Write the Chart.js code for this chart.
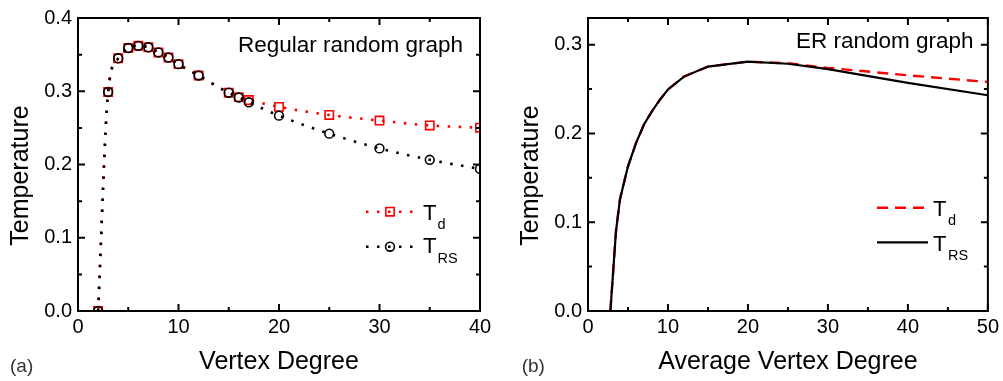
<!DOCTYPE html>
<html>
<head>
<meta charset="utf-8">
<script src="https://cdn.jsdelivr.net/npm/chart.js@4.4.1/dist/chart.umd.min.js"></script>
<style>
  html, body { margin: 0; padding: 0; background: #fff; }
  #wrap { position: relative; width: 1003px; height: 381px; }
  canvas { position: absolute; top: 0; }
</style>
</head>
<body>
<div id="wrap">
  <canvas id="chartA" width="500" height="381" style="left:0"></canvas>
  <canvas id="chartB" width="503" height="381" style="left:500px"></canvas>
</div>
<script>
// (a) regular random graph
const degree = [2, 3, 4, 5, 6, 7, 8, 9, 10, 12, 15, 16, 17, 20, 25, 30, 35, 40];
const tdRegular = [0, 0.299, 0.345, 0.359, 0.362, 0.360, 0.353, 0.346, 0.337, 0.3215, 0.298, 0.292, 0.288, 0.2787, 0.2676, 0.260, 0.2533, 0.2502];
const trsRegular = [0, 0.299, 0.345, 0.359, 0.362, 0.360, 0.353, 0.346, 0.337, 0.3215, 0.298, 0.2915, 0.285, 0.2667, 0.2421, 0.222, 0.2064, 0.194];

// (b) ER random graph
const avgDegree = [2.8, 3.5, 4, 5, 6, 7, 8, 9, 10, 12, 15, 20, 25, 30, 40, 50];
const tdER = [0, 0.09, 0.126, 0.163, 0.189, 0.21, 0.225, 0.238, 0.2495, 0.264, 0.2753, 0.2808, 0.279, 0.2738, 0.2655, 0.258];
const trsER = [0, 0.09, 0.126, 0.163, 0.189, 0.21, 0.225, 0.238, 0.2495, 0.264, 0.2753, 0.2808, 0.2785, 0.2725, 0.257, 0.243];

const xTicksA = [0, 10, 20, 30, 40];
const yTicksA = [0, 0.1, 0.2, 0.3, 0.4];
const xTicksB = [0, 10, 20, 30, 40, 50];
const yTicksB = [0, 0.1, 0.2, 0.3];

const FONT = '"Liberation Sans", Arial, Helvetica, sans-serif';
Chart.defaults.font.family = FONT;
Chart.defaults.color = '#000';

const pts = (xs, ys) => xs.map((x, i) => ({ x, y: ys[i] }));

// frame, inward ticks, y title, panel text and legend with subscripts
const decor = {
  id: 'decor',
  afterDatasetsDraw(chart, args, o) {
    const { ctx, chartArea: a, scales } = chart;
    ctx.save();
    ctx.strokeStyle = '#000';
    ctx.lineWidth = 2;
    ctx.strokeRect(a.left, a.top, a.right - a.left, a.bottom - a.top);

    const marks = s => {
      const major = s.ticks.map(t => t.value);
      const out = major.map(v => [v, 7]);
      for (let i = 0; i < major.length - 1; i++) out.push([(major[i] + major[i + 1]) / 2, 4]);
      return out;
    };
    ctx.beginPath();
    for (const [v, len] of marks(scales.x)) {
      const p = scales.x.getPixelForValue(v);
      ctx.moveTo(p, a.bottom); ctx.lineTo(p, a.bottom - len);
      ctx.moveTo(p, a.top); ctx.lineTo(p, a.top + len);
    }
    for (const [v, len] of marks(scales.y)) {
      const p = scales.y.getPixelForValue(v);
      ctx.moveTo(a.left, p); ctx.lineTo(a.left + len, p);
      ctx.moveTo(a.right, p); ctx.lineTo(a.right - len, p);
    }
    ctx.stroke();

    // y axis title
    ctx.fillStyle = '#000';
    ctx.font = '25px ' + FONT;
    ctx.textAlign = 'center';
    ctx.textBaseline = 'middle';
    ctx.save();
    ctx.translate(o.yTitleX, 175.5);
    ctx.rotate(-Math.PI / 2);
    ctx.fillText('Temperature', 0, 0);
    ctx.restore();

    // panel label and graph name
    ctx.textAlign = 'left';
    ctx.textBaseline = 'alphabetic';
    ctx.fillStyle = '#333';
    ctx.font = '19px ' + FONT;
    ctx.fillText(o.panel, o.panelX, 372);
    ctx.fillStyle = '#000';
    ctx.font = '22.5px ' + FONT;
    ctx.fillText(o.name, o.nameX, o.nameY);

    // legend
    o.legend.forEach(item => {
      const ds = chart.data.datasets[item.index];
      ctx.save();
      ctx.strokeStyle = ds.borderColor;
      ctx.lineWidth = ds.borderWidth;
      ctx.setLineDash(ds.borderDash || []);
      ctx.beginPath();
      ctx.moveTo(o.lx0, item.y);
      ctx.lineTo(o.lx1, item.y);
      ctx.stroke();
      ctx.setLineDash([]);
      if (ds.pointRadius > 0) {
        const cx = (o.lx0 + o.lx1) / 2;
        ctx.lineWidth = ds.pointBorderWidth;
        ctx.beginPath();
        if (ds.pointStyle === 'rect') {
          const h = ds.pointRadius * Math.SQRT1_2;
          ctx.rect(cx - h, item.y - h, 2 * h, 2 * h);
        } else {
          ctx.arc(cx, item.y, ds.pointRadius, 0, Math.PI * 2);
        }
        ctx.stroke();
      }
      ctx.restore();
      ctx.font = '22px ' + FONT;
      ctx.fillText('T', o.tx, item.base);
      ctx.font = '14.5px ' + FONT;
      ctx.fillText(item.sub, o.sx, item.base + item.drop);
    });
    ctx.restore();
  }
};

function axes(xMax, yMax, xTicks, yTicks, xTitle, yWidth) {
  return {
    x: {
      type: 'linear', min: 0, max: xMax,
      afterBuildTicks: s => { s.ticks = xTicks.map(v => ({ value: v })); },
      afterFit: s => { s.height = 70; },
      grid: { display: false, drawTicks: false },
      border: { display: false },
      ticks: { font: { size: 20 }, color: '#000', padding: 4, maxRotation: 0, autoSkip: false },
      title: { display: true, text: xTitle, font: { size: 25 }, color: '#000', padding: { top: 0, bottom: 4 } }
    },
    y: {
      type: 'linear', min: 0, max: yMax,
      afterBuildTicks: s => { s.ticks = yTicks.map(v => ({ value: v })); },
      afterFit: s => { s.width = yWidth; },
      grid: { display: false, drawTicks: false },
      border: { display: false },
      ticks: { font: { size: 20 }, color: '#000', padding: 6, autoSkip: false, callback: v => v.toFixed(1) }
    }
  };
}

new Chart(document.getElementById('chartA'), {
  type: 'line',
  data: {
    datasets: [
      {
        label: 'T_RS', data: pts(degree, trsRegular),
        borderColor: '#000', borderWidth: 2.6, borderDash: [2.5, 8.5], borderCapStyle: 'butt',
        pointStyle: 'circle', pointRadius: 4.4, pointBorderWidth: 1.6,
        pointBorderColor: '#000', pointBackgroundColor: 'rgba(0,0,0,0)',
        cubicInterpolationMode: 'monotone'
      },
      {
        label: 'T_d', data: pts(degree, tdRegular),
        borderColor: '#ff0000', borderWidth: 2.6, borderDash: [2.5, 8.5], borderCapStyle: 'butt',
        pointStyle: 'rect', pointRadius: 5.9, pointBorderWidth: 1.6,
        pointBorderColor: '#ff0000', pointBackgroundColor: 'rgba(0,0,0,0)',
        cubicInterpolationMode: 'monotone'
      }
    ]
  },
  options: {
    responsive: false, animation: false, devicePixelRatio: 1,
    layout: { padding: { left: 0, right: 20, top: 12, bottom: 0 } },
    plugins: {
      legend: { display: false }, tooltip: { enabled: false },
      decor: {
        yTitleX: 20.9, panel: '(a)', panelX: 10,
        name: 'Regular random graph', nameX: 238, nameY: 51.7,
        lx0: 366, lx1: 414, tx: 423, sx: 437.5,
        legend: [
          { index: 1, y: 211.7, base: 220, drop: 9.3, sub: 'd' },
          { index: 0, y: 246.7, base: 252.7, drop: 10.6, sub: 'RS' }
        ]
      }
    },
    scales: axes(40, 0.4, xTicksA, yTicksA, 'Vertex Degree', 78)
  },
  plugins: [decor]
});

new Chart(document.getElementById('chartB'), {
  type: 'line',
  data: {
    datasets: [
      {
        label: 'T_RS', data: pts(avgDegree, trsER),
        borderColor: '#000', borderWidth: 2.2,
        pointRadius: 0, tension: 0
      },
      {
        label: 'T_d', data: pts(avgDegree, tdER),
        borderColor: '#ff0000', borderWidth: 2.4, borderDash: [11, 7], borderCapStyle: 'butt',
        pointRadius: 0, tension: 0
      }
    ]
  },
  options: {
    responsive: false, animation: false, devicePixelRatio: 1,
    layout: { padding: { left: 0, right: 13, top: 12, bottom: 0 } },
    plugins: {
      legend: { display: false }, tooltip: { enabled: false },
      decor: {
        yTitleX: 30.9, panel: '(b)', panelX: 21.7,
        name: 'ER random graph', nameX: 296, nameY: 48.3,
        lx0: 377, lx1: 428, tx: 433, sx: 448,
        legend: [
          { index: 1, y: 207.7, base: 216, drop: 9, sub: 'd' },
          { index: 0, y: 242.3, base: 250.7, drop: 9.5, sub: 'RS' }
        ]
      }
    },
    scales: axes(50, 0.33, xTicksB, yTicksB, 'Average Vertex Degree', 88)
  },
  plugins: [decor]
});
</script>
</body>
</html>
